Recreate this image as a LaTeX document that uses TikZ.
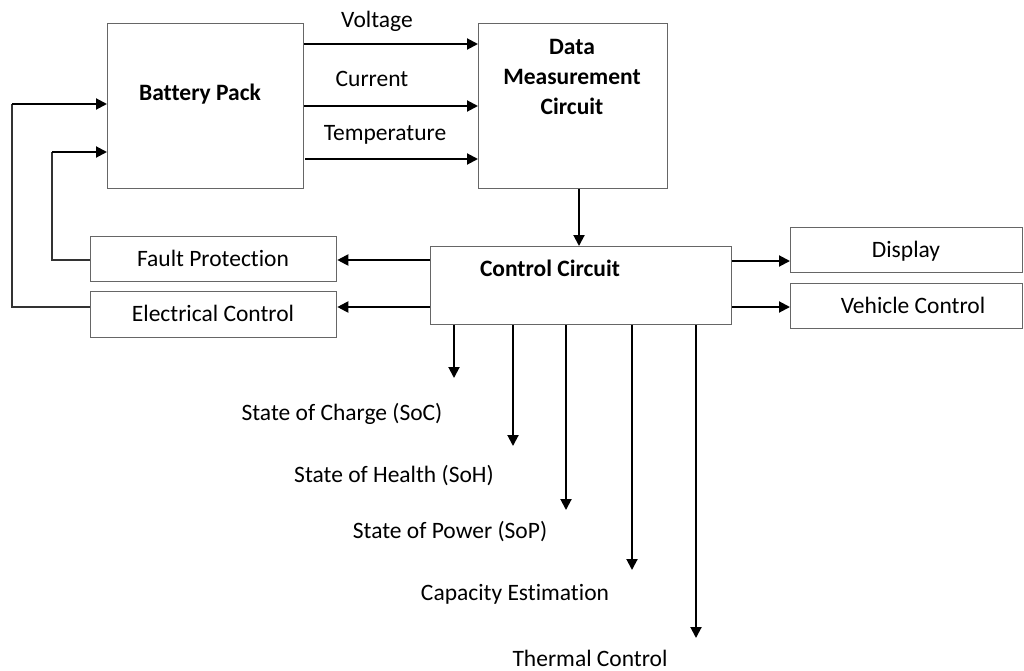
\documentclass[tikz,border=0pt]{standalone}
\usepackage{fontspec}
\setmainfont{Carlito}[Ligatures=CommonOff]
\usetikzlibrary{arrows.meta}
\begin{document}
\begin{tikzpicture}[x=1pt,y=-1pt,
  box/.style={draw=black!60, line width=1.3pt, rectangle, inner sep=0pt, anchor=north west},
  arr/.style={line width=2pt, -{Triangle[length=11pt,width=11pt]}},
  ln/.style={line width=1.3pt, draw=black!80},
  lbl/.style={font=\fontsize{23.5}{27}\selectfont, inner sep=0pt},
  blbl/.style={font=\fontsize{23.5}{30}\selectfont\bfseries, inner sep=0pt, align=center}]
\useasboundingbox (0,0) rectangle (1024,671);
% boxes
\node[box, minimum width=196pt, minimum height=165pt] (bp) at (107,23) {};
\node[box, minimum width=189pt, minimum height=165pt] (dmc) at (478,23) {};
\node[box, minimum width=301pt, minimum height=78pt] (cc) at (430,246) {};
\node[box, minimum width=246pt, minimum height=45pt] (fp) at (90,236) {};
\node[box, minimum width=246pt, minimum height=46pt] (ec) at (90,291) {};
\node[box, minimum width=232pt, minimum height=45pt] (disp) at (790,227) {};
\node[box, minimum width=232pt, minimum height=45pt] (vc) at (790,283) {};
% box texts
\node[blbl] (bpt) at (200,94) {Battery Pack};
\node[blbl] (dmct) at (572,77) {Data\\Measurement\\Circuit};
\node[blbl] (cct) at (550,268) {Control Circuit};
\node[lbl] (fpt) at (213,258) {Fault Protection};
\node[lbl] (ect) at (213,313) {Electrical Control};
\node[lbl] (dispt) at (906,251) {Display};
\node[lbl] (vct) at (913,305) {Vehicle Control};
% signal labels
\node[lbl] (vl) at (377,21) {Voltage};
\node[lbl] (cl) at (372,79) {Current};
\node[lbl] (tl) at (385,135) {Temperature};
% top arrows
\draw[arr] (bp.east |- 0,44) -- (dmc.west |- 0,44);
\draw[arr] (bp.east |- 0,106) -- (dmc.west |- 0,106);
\draw[arr] (305,159) -- (dmc.west |- 0,159);
\draw[arr] (dmc.south -| 579,0) -- (cc.north -| 579,0);
% left arrows
\draw[arr] (cc.west |- 0,260) -- (fp.east |- 0,260);
\draw[arr] (cc.west |- 0,307) -- (ec.east |- 0,307);
% right arrows
\draw[arr] (cc.east |- 0,261) -- (disp.west |- 0,261);
\draw[arr] (cc.east |- 0,307) -- (vc.west |- 0,307);
% feedback
\draw[ln] (fp.west |- 0,260) -- (52,260) -- (52,152);
\draw[arr] (52,152) -- (bp.west |- 0,152);
\draw[ln] (ec.west |- 0,307) -- (12,307) -- (12,104);
\draw[arr] (12,104) -- (bp.west |- 0,104);
% down arrows
\coordinate (e1) at (454,378);
\coordinate (e2) at (513,446);
\coordinate (e3) at (566,510);
\coordinate (e4) at (632,570);
\coordinate (e5) at (696,638);
\draw[arr] (cc.south -| e1) -- (e1);
\draw[arr] (cc.south -| e2) -- (e2);
\draw[arr] (cc.south -| e3) -- (e3);
\draw[arr] (cc.south -| e4) -- (e4);
\draw[arr] (cc.south -| e5) -- (e5);
\node[lbl] (soc) at (342,414) {State of Charge (SoC)};
\node[lbl] (soh) at (394,476) {State of Health (SoH)};
\node[lbl] (sop) at (450,532) {State of Power (SoP)};
\node[lbl] (cap) at (515,594) {Capacity Estimation};
\node[lbl] (thc) at (590,658) {Thermal Control};
\end{tikzpicture}
\end{document}
